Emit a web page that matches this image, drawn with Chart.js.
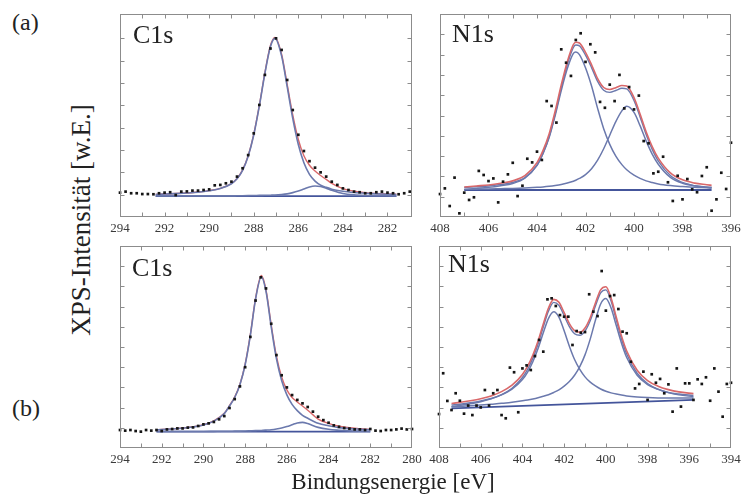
<!DOCTYPE html>
<html>
<head>
<meta charset="utf-8">
<script src="https://cdn.jsdelivr.net/npm/chart.js@4.4.1/dist/chart.umd.min.js"></script>
<style>
  html, body { margin: 0; padding: 0; background: #fff; }
  body { width: 744px; height: 501px; position: relative; overflow: hidden;
         font-family: "Liberation Serif", "Times New Roman", "DejaVu Serif", serif; color: #222; }
  canvas { position: absolute; }
  .t { position: absolute; white-space: nowrap; line-height: 1; }
</style>
</head>
<body>
<canvas id="c1sA"></canvas>
<canvas id="n1sA"></canvas>
<canvas id="c1sB"></canvas>
<canvas id="n1sB"></canvas>

<div class="t" id="lblA">(a)</div>
<div class="t" id="lblB">(b)</div>
<div class="t" id="yTitle">XPS-Intensität [w.E.]</div>
<div class="t" id="xTitle">Bindungsenergie [eV]</div>
<div class="t" id="tC1sA">C1s</div>
<div class="t" id="tN1sA">N1s</div>
<div class="t" id="tC1sB">C1s</div>
<div class="t" id="tN1sB">N1s</div>

<script>
// ---------------- C1s, sample (a) ----------------
const c1sA_E = [294, 293.75, 293.5, 293.25, 293, 292.75, 292.5, 292.25, 292, 291.75, 291.5, 291.25, 291,
  290.75, 290.5, 290.25, 290, 289.75, 289.5, 289.25, 289, 288.75, 288.5, 288.25, 288, 287.75, 287.5,
  287.25, 287, 286.75, 286.5, 286.25, 286, 285.75, 285.5, 285.25, 285, 284.75, 284.5, 284.25, 284,
  283.75, 283.5, 283.25, 283, 282.75, 282.5, 282.25, 282, 281.75, 281.5, 281.25, 281];
const c1sA_I = [12.0, 12.5, 11.7, 11.7, 11.3, 11.3, 11.2, 11.7, 12.0, 12.2, 10.8, 12.5, 12.6,
  13.0, 13.0, 13.3, 13.6, 15.6, 15.8, 16.6, 17.4, 19.9, 24.0, 30.5, 41.2, 55.2, 70.0,
  83.0, 88.0, 82.3, 67.5, 52.7, 40.5, 32.5, 27.5, 24.3, 22.0, 19.9, 17.4, 15.8, 14.1,
  13.3, 12.5, 12.2, 11.7, 11.7, 12.2, 12.5, 12.0, 11.7, 11.2, 11.7, 12.5];
const c1sA_fitE = [292.4, 292, 291.5, 291, 290.5, 290, 289.5, 289, 288.75, 288.5, 288.25, 288, 287.75,
  287.5, 287.25, 287.05, 286.75, 286.5, 286.25, 286, 285.75, 285.5, 285.25, 285, 284.75, 284.5, 284,
  283.5, 283, 282.5, 282, 281.6];
const c1sA_main = [11.1, 11.3, 11.5, 11.8, 12.2, 12.9, 14.0, 16.4, 18.8, 23.0, 29.9, 40.4, 54.6,
  70.7, 84.0, 88.0, 79.4, 64.2, 48.6, 35.7, 26.7, 21.0, 17.7, 15.7, 14.6, 13.7, 12.7,
  12.1, 11.7, 11.4, 11.2, 11.1];
const c1sA_minor = [10.35, 10.35, 10.35, 10.35, 10.4, 10.4, 10.4, 10.4, 10.45, 10.5, 10.55, 10.6, 10.65,
  10.7, 10.75, 10.8, 11.05, 11.4, 12.0, 12.8, 13.8, 14.8, 15.25, 15.05, 14.2, 13.2, 11.6,
  10.9, 10.6, 10.5, 10.45, 10.4];
const c1sA_sum = [11.15, 11.35, 11.55, 11.85, 12.3, 13.0, 14.1, 16.5, 18.95, 23.2, 30.15, 40.7, 54.95,
  71.1, 84.45, 88.5, 80.15, 65.3, 50.3, 38.2, 30.2, 25.5, 22.65, 20.45, 18.5, 16.6, 14.0,
  12.7, 12.0, 11.6, 11.35, 11.2];
const c1sA_bgE = [292.4, 281.6];
const c1sA_bg = [10.3, 10.3];

// ---------------- N1s, sample (a) ----------------
const n1sA_E = [408.0, 407.8, 407.6, 407.4, 407.2, 407.0, 406.8, 406.6, 406.4, 406.2, 406.0, 405.8,
  405.6, 405.4, 405.2, 405.0, 404.8, 404.6, 404.4, 404.2, 404.0, 403.8, 403.6, 403.4, 403.2, 403.0,
  402.8, 402.6, 402.4, 402.2, 402.0, 401.8, 401.6, 401.4, 401.2, 401.0, 400.8, 400.6, 400.4, 400.2,
  400.0, 399.8, 399.6, 399.4, 399.2, 399.0, 398.8, 398.6, 398.4, 398.2, 398.0, 397.8, 397.6, 397.4,
  397.2, 397.0, 396.8, 396.6, 396.4, 396.2, 396.0];
const n1sA_I = [11.3, 14.1, 5.4, 19.4, 1.8, 12.0, 8.4, 9.7, 22.7, 20.7, 17.7, 19.0, 7.2, 17.4, 21.0,
  26.7, 10.3, 15.4, 28.7, 26.9, 32.2, 28.1, 57.1, 54.7, 46.5, 82.6, 76.0, 69.5, 87.2, 90.5, 76.4,
  85.1, 81.1, 56.7, 53.8, 65.2, 57.1, 70.0, 53.5, 64.0, 53.0, 59.8, 37.4, 36.3, 21.5, 22.3, 29.7,
  17.1, 7.9, 20.3, 8.7, 18.7, 13.6, 12.2, 20.2, 24.5, 3.1, 8.7, 21.8, 13.8, 36.6];
const n1sA_fitE = [407, 406.5, 406, 405.5, 405, 404.5, 404, 403.75, 403.5, 403.25, 403, 402.75, 402.5,
  402.4, 402.25, 402, 401.75, 401.5, 401.25, 401, 400.75, 400.5, 400.3, 400, 399.75, 399.5, 399.25,
  399, 398.5, 398, 397.5, 397, 396.8];
const n1sA_peak1 = [14.5, 14.9, 15.3, 16.0, 17.0, 19.4, 25.5, 31.3, 39.1, 50.0, 62.3, 73.1, 80.6,
  81.3, 80.0, 73.5, 64.5, 53.5, 43.5, 35.8, 30.0, 25.8, 23.3, 20.6, 19.0, 17.8, 17.0,
  16.3, 15.5, 15.0, 14.6, 14.4, 14.3];
const n1sA_peak2 = [13.6, 13.7, 13.8, 13.95, 14.1, 14.3, 14.6, 14.8, 15.1, 15.5, 16.0, 16.7, 17.6,
  18.1, 19.0, 20.9, 23.8, 28.0, 33.6, 40.3, 47.0, 52.3, 54.5, 51.5, 45.0, 37.5, 31.0,
  26.0, 19.5, 16.6, 15.4, 14.8, 14.6];
const n1sA_sum = [14.8, 15.3, 15.8, 16.65, 17.8, 20.4, 26.8, 32.8, 40.9, 52.2, 65.0, 76.5, 84.9,
  86.1, 85.7, 81.1, 75.0, 68.2, 63.8, 62.8, 63.7, 64.8, 64.5, 58.8, 50.7, 42.0, 34.7,
  29.0, 21.7, 18.3, 16.7, 15.9, 15.6];
const n1sA_sumBlue = [13.6, 14.1, 14.6, 15.4, 16.5, 19.1, 25.4, 31.4, 39.5, 50.8, 63.6, 75.1, 83.5,
  84.7, 84.3, 79.7, 73.6, 66.8, 62.4, 61.4, 62.3, 63.4, 63.1, 57.4, 49.3, 40.6, 33.3,
  27.6, 20.4, 17.0, 15.4, 14.6, 14.3];
const n1sA_bgE = [407, 396.8];
const n1sA_bg = [13.3, 13.3];

// ---------------- C1s, sample (b) ----------------
const c1sB_E = [294, 293.75, 293.5, 293.25, 293, 292.75, 292.5, 292.25, 292, 291.75, 291.5, 291.25, 291,
  290.75, 290.5, 290.25, 290, 289.75, 289.5, 289.25, 289, 288.75, 288.5, 288.25, 288, 287.75, 287.5,
  287.25, 287, 286.75, 286.5, 286.25, 286, 285.75, 285.5, 285.25, 285, 284.75, 284.5, 284.25, 284,
  283.75, 283.5, 283.25, 283, 282.75, 282.5, 282.25, 282, 281.75, 281.5, 281.25, 281, 280.75, 280.5,
  280.25, 280];
const c1sB_I = [8.9, 8.6, 8.9, 8.4, 8.1, 8.9, 8.6, 8.9, 8.4, 9.2, 9.4, 9.7, 9.7,
  10.1, 10.2, 10.9, 11.7, 12.2, 12.9, 14.2, 15.8, 19.8, 24.2, 30.5, 40.0, 55.0, 73.0,
  84.5, 79.0, 61.5, 46.0, 36.0, 30.0, 26.2, 23.8, 22.1, 20.3, 18.0, 15.5, 13.8, 12.5,
  11.2, 10.5, 9.9, 9.6, 9.2, 9.2, 8.9, 9.4, 8.6, 8.4, 8.9, 8.9, 9.2, 9.6, 9.2, 9.4];
const c1sB_fitE = [292.25, 292, 291.5, 291, 290.5, 290, 289.5, 289, 288.75, 288.5, 288.25, 288, 287.75,
  287.5, 287.22, 287, 286.75, 286.5, 286.25, 286, 285.75, 285.5, 285.25, 285, 284.5, 284, 283.5,
  283, 282.5, 282];
const c1sB_main = [9.0, 9.1, 9.4, 9.8, 10.4, 11.4, 13.3, 17.0, 20.8, 25.0, 31.3, 41.2, 55.8,
  73.7, 84.8, 77.5, 60.0, 44.2, 33.4, 26.3, 21.6, 18.5, 16.2, 14.7, 12.2, 11.0, 10.1,
  9.6, 9.3, 9.0];
const c1sB_minor = [8.15, 8.15, 8.15, 8.2, 8.2, 8.2, 8.25, 8.3, 8.3, 8.35, 8.35, 8.4, 8.5,
  8.6, 8.7, 8.85, 9.05, 9.4, 9.9, 10.6, 11.5, 12.4, 12.7, 12.1, 10.2, 9.25, 8.8,
  8.5, 8.35, 8.25];
const c1sB_sum = [9.05, 9.15, 9.45, 9.9, 10.5, 11.5, 13.45, 17.2, 21.0, 25.25, 31.55, 41.5, 56.2,
  74.2, 85.4, 78.25, 60.95, 45.5, 35.2, 28.8, 25.0, 22.8, 20.8, 18.7, 14.3, 12.15, 10.8,
  10.0, 9.55, 9.15];
const c1sB_bgE = [292.25, 282];
const c1sB_bg = [8.1, 8.1];

// ---------------- N1s, sample (b) ----------------
const n1sB_E = [408.0, 407.8, 407.6, 407.4, 407.2, 407.0, 406.8, 406.6, 406.4, 406.2, 406.0, 405.8,
  405.6, 405.4, 405.2, 405.0, 404.8, 404.6, 404.4, 404.2, 404.0, 403.8, 403.6, 403.4, 403.2, 403.0,
  402.8, 402.6, 402.4, 402.2, 402.0, 401.8, 401.6, 401.4, 401.2, 401.0, 400.8, 400.6, 400.4, 400.2,
  400.0, 399.8, 399.6, 399.4, 399.2, 399.0, 398.8, 398.6, 398.4, 398.2, 398.0, 397.8, 397.6, 397.4,
  397.2, 397.0, 396.8, 396.6, 396.4, 396.2, 396.0, 395.8, 395.6, 395.4, 395.2, 395.0, 394.8, 394.6,
  394.4, 394.2, 394.0];
const n1sB_I = [16.8, 37.0, 23.3, 18.8, 27.1, 23.4, 17.0, 21.0, 16.3, 21.0,
  20.1, 28.7, 21.0, 27.1, 28.7, 16.3, 14.7, 39.8, 37.5, 17.7,
  39.4, 40.9, 38.6, 45.5, 53.5, 47.7, 73.6, 74.1, 70.3, 65.8,
  65.0, 65.0, 51.0, 57.9, 57.1, 57.4, 76.1, 67.5, 65.3, 87.6,
  68.0, 75.2, 75.7, 68.8, 57.6, 56.8, 42.7, 29.5, 31.7, 37.8,
  23.8, 36.5, 32.3, 34.2, 27.1, 31.5, 18.0, 39.4, 20.5, 32.0,
  32.0, 23.8, 34.0, 31.7, 35.0, 23.4, 39.4, 27.9, 15.5, 31.7, 32.3];
const n1sB_fitE = [407.4, 407, 406.5, 406, 405.5, 405, 404.5, 404, 403.75, 403.5, 403.25, 403, 402.75,
  402.5, 402.25, 402, 401.75, 401.5, 401.25, 401, 400.75, 400.5, 400.25, 400, 399.75, 399.5, 399.25,
  399, 398.5, 398, 397.5, 397, 396.5, 395.8];
const n1sB_peak1 = [21.3, 21.7, 22.4, 23.3, 24.5, 26.3, 29.1, 33.9, 37.6, 42.7, 49.2, 57.0, 64.2,
  67.5, 64.8, 58.0, 50.4, 43.8, 38.9, 35.2, 32.6, 30.7, 29.2, 28.1, 27.3, 26.7, 26.2,
  25.8, 25.3, 25.0, 24.8, 24.7, 24.7, 24.7];
const n1sB_peak2 = [20.4, 20.6, 20.9, 21.3, 21.7, 22.1, 22.7, 23.4, 23.8, 24.3, 24.9, 25.6, 26.4,
  27.5, 28.8, 30.6, 32.9, 36.0, 40.3, 46.1, 53.9, 63.2, 71.3, 74.0, 69.3, 60.6, 51.9,
  44.8, 36.0, 31.4, 29.0, 27.5, 26.7, 26.0];
const n1sB_sum = [22.0, 22.6, 23.4, 24.4, 25.8, 27.9, 31.1, 36.4, 40.5, 46.0, 53.0, 61.4, 69.3,
  73.6, 72.1, 67.0, 61.6, 58.1, 57.3, 59.4, 64.5, 71.8, 78.3, 79.8, 74.2, 64.8, 55.5,
  48.0, 38.5, 33.4, 30.6, 28.9, 27.8, 26.9];
const n1sB_sumBlue = [20.5, 21.1, 21.9, 22.9, 24.3, 26.4, 29.6, 34.9, 39.0, 44.5, 51.5, 59.9, 67.8,
  72.1, 70.6, 65.5, 60.1, 56.6, 55.8, 57.9, 63.0, 70.3, 76.8, 78.3, 72.7, 63.3, 54.0,
  46.5, 37.0, 31.9, 29.1, 27.4, 26.3, 25.4];
const n1sB_bgE = [407.4, 395.8];
const n1sB_bg = [19.6, 23.8];

// ---------------- layout & styling ----------------
const PAD_X = 22, PAD_T = 8, AXIS_H = 24, TICK_LEN = 4;
const FRAME_COLOR = '#8c8c8c';
const DOT_COLOR = '#151515';
const COMP_COLOR = '#6b79ad';
const BG_COLOR = '#44559b';
const SUM_RED = '#d9686a';
const SERIF = '"Liberation Serif", "Times New Roman", "DejaVu Serif", serif';

const frames = {
  c1sA: { L: 120, T: 14, R: 412, B: 217 },
  n1sA: { L: 440, T: 14, R: 731, B: 217 },
  c1sB: { L: 120, T: 246, R: 412, B: 448 },
  n1sB: { L: 439, T: 246, R: 731, B: 448 }
};

function pts(xs, ys) { return xs.map((x, i) => ({ x: x, y: ys[i] })); }

function dots(xs, ys) {
  return { data: pts(xs, ys), showLine: false, pointStyle: 'rect', pointRadius: 1.9,
           pointBackgroundColor: DOT_COLOR, pointBorderWidth: 0, clip: false, order: 0 };
}
function curve(xs, ys, color, width, order) {
  return { data: pts(xs, ys), showLine: true, borderColor: color, borderWidth: width,
           pointRadius: 0, cubicInterpolationMode: 'monotone', fill: false, order: order };
}

// frame box with inward tick marks on all four sides
const frameTicks = {
  id: 'frameTicks',
  afterDatasetsDraw(chart) {
    const { ctx, chartArea: a, scales: { x, y } } = chart;
    ctx.save();
    ctx.strokeStyle = FRAME_COLOR;
    ctx.lineWidth = 1;
    const l = Math.round(a.left) + 0.5, r = Math.round(a.right) - 0.5;
    const t = Math.round(a.top) + 0.5, b = Math.round(a.bottom) - 0.5;
    ctx.strokeRect(l, t, r - l, b - t);
    ctx.beginPath();
    x.ticks.forEach(tk => {
      const p = Math.round(x.getPixelForValue(tk.value)) + 0.5;
      if (p < l + 2 || p > r - 2) return;
      ctx.moveTo(p, b); ctx.lineTo(p, b - TICK_LEN);
      ctx.moveTo(p, t); ctx.lineTo(p, t + TICK_LEN);
    });
    y.ticks.forEach(tk => {
      const p = Math.round(y.getPixelForValue(tk.value)) + 0.5;
      if (p < t + 2 || p > b - 2) return;
      ctx.moveTo(l, p); ctx.lineTo(l + TICK_LEN, p);
      ctx.moveTo(r, p); ctx.lineTo(r - TICK_LEN, p);
    });
    ctx.stroke();
    ctx.restore();
  }
};

function makePanel(id, xMin, xMax, yStep, datasets) {
  const f = frames[id];
  const cv = document.getElementById(id);
  const w = (f.R - f.L) + 2 * PAD_X;
  const h = (f.B - f.T) + PAD_T + AXIS_H;
  cv.width = w; cv.height = h;
  cv.style.left = (f.L - PAD_X) + 'px';
  cv.style.top = (f.T - PAD_T) + 'px';
  cv.style.width = w + 'px'; cv.style.height = h + 'px';
  return new Chart(cv, {
    type: 'scatter',
    data: { datasets: datasets },
    plugins: [frameTicks],
    options: {
      responsive: false, animation: false, events: [],
      layout: { padding: { left: PAD_X, right: PAD_X, top: PAD_T, bottom: 0 } },
      plugins: { legend: { display: false }, tooltip: { enabled: false } },
      scales: {
        x: {
          type: 'linear', reverse: true, min: xMin, max: xMax,
          grid: { display: false, drawTicks: false }, border: { display: false },
          ticks: {
            stepSize: 1, maxTicksLimit: 100, autoSkip: false, maxRotation: 0, padding: 4,
            color: '#3a3a3a', font: { family: SERIF, size: 13 },
            callback: v => (Number.isInteger(v) && v % 2 === 0) ? String(v) : ''
          },
          afterFit: s => { s.height = AXIS_H; }
        },
        y: {
          type: 'linear', min: 0, max: 100,
          grid: { display: false, drawTicks: false }, border: { display: false },
          ticks: { display: false, stepSize: yStep, maxTicksLimit: 100 },
          afterFit: s => { s.width = 0; }
        }
      }
    }
  });
}

makePanel('c1sA', 280.9, 294, 11, [
  dots(c1sA_E, c1sA_I),
  curve(c1sA_fitE, c1sA_main, COMP_COLOR, 1.6, 1),
  curve(c1sA_fitE, c1sA_minor, COMP_COLOR, 1.6, 1),
  curve(c1sA_fitE, c1sA_sum, SUM_RED, 1.4, 2),
  curve(c1sA_bgE, c1sA_bg, BG_COLOR, 1.6, 3)
]);
makePanel('n1sA', 396, 408, 10, [
  dots(n1sA_E, n1sA_I),
  curve(n1sA_fitE, n1sA_sum, SUM_RED, 1.6, 1),
  curve(n1sA_fitE, n1sA_sumBlue, COMP_COLOR, 1.4, 2),
  curve(n1sA_fitE, n1sA_peak1, COMP_COLOR, 1.5, 2),
  curve(n1sA_fitE, n1sA_peak2, COMP_COLOR, 1.5, 2),
  curve(n1sA_bgE, n1sA_bg, BG_COLOR, 1.8, 3)
]);
makePanel('c1sB', 280, 294, 10, [
  dots(c1sB_E, c1sB_I),
  curve(c1sB_fitE, c1sB_main, COMP_COLOR, 1.6, 1),
  curve(c1sB_fitE, c1sB_minor, COMP_COLOR, 1.6, 1),
  curve(c1sB_fitE, c1sB_sum, SUM_RED, 1.4, 2),
  curve(c1sB_bgE, c1sB_bg, BG_COLOR, 1.6, 3)
]);
makePanel('n1sB', 394, 408, 10, [
  dots(n1sB_E, n1sB_I),
  curve(n1sB_fitE, n1sB_sum, SUM_RED, 1.6, 1),
  curve(n1sB_fitE, n1sB_sumBlue, COMP_COLOR, 1.4, 2),
  curve(n1sB_fitE, n1sB_peak1, COMP_COLOR, 1.5, 2),
  curve(n1sB_fitE, n1sB_peak2, COMP_COLOR, 1.5, 2),
  curve(n1sB_bgE, n1sB_bg, BG_COLOR, 1.8, 3)
]);

// ---------------- text placement (by baseline) ----------------
function place(id, x, baseline, size, centered, rotate) {
  const el = document.getElementById(id);
  el.style.fontSize = size + 'px';
  if (rotate) {
    el.style.left = x + 'px';
    el.style.top = baseline + 'px';
    el.style.transform = 'translate(-50%, -50%) rotate(-90deg)';
    return;
  }
  el.style.top = (baseline - 0.8375 * size) + 'px';
  el.style.left = x + 'px';
  if (centered) el.style.transform = 'translateX(-50%)';
}
place('lblA', 12, 30, 24);
place('lblB', 12, 416, 24);
place('yTitle', 81, 220, 27, true, true);
place('xTitle', 393, 489, 23, true);
place('tC1sA', 133, 44, 26);
place('tN1sA', 452, 43, 26);
place('tC1sB', 132, 277, 26);
place('tN1sB', 448, 273, 26);
</script>
</body>
</html>
